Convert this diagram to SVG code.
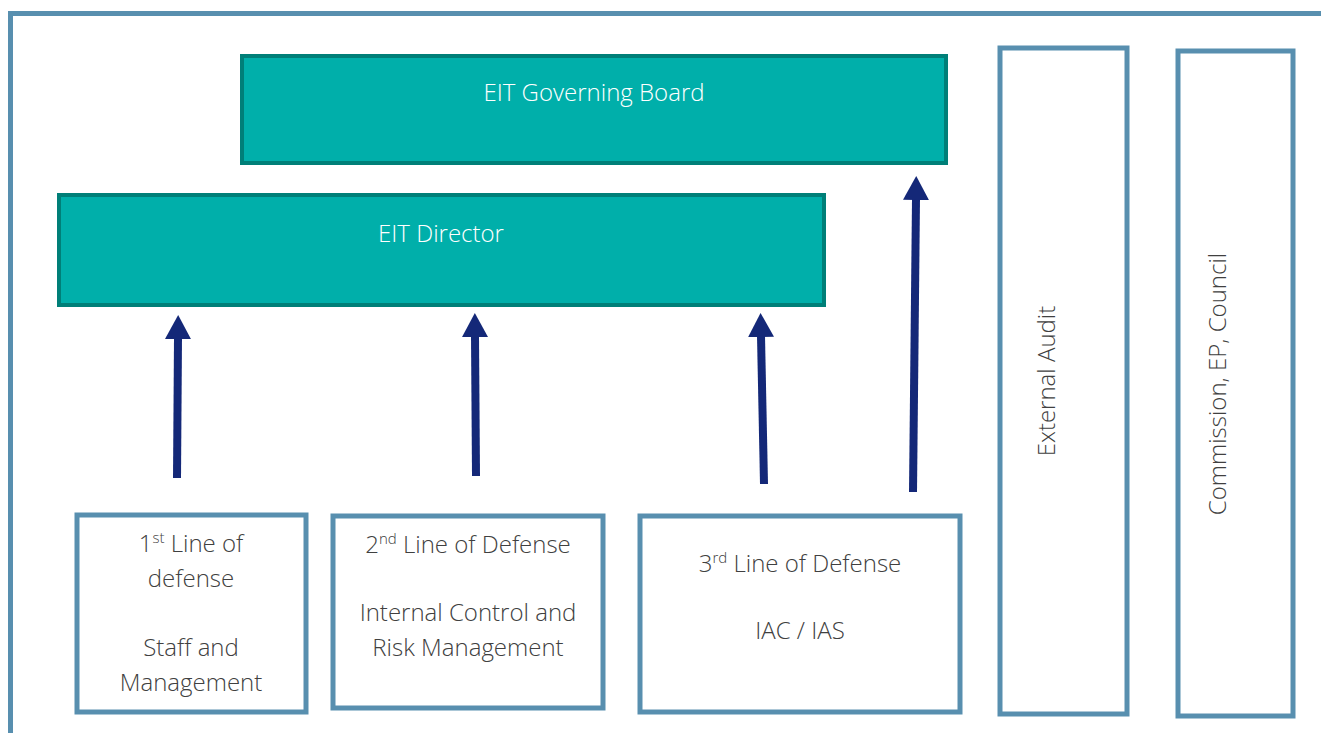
<svg xmlns="http://www.w3.org/2000/svg" width="1321" height="733" viewBox="0 0 1321 733">
<defs>
<style>
.frame{fill:none;stroke:#588FAF;stroke-width:5}
.teal{fill:#00AFAA;stroke:#007F78;stroke-width:4}
.box{fill:#fff;stroke:#588FAF;stroke-width:5}
.tw{font-family:"Open Sans","Liberation Sans",sans-serif;font-weight:300;font-size:24px;fill:#fff;text-anchor:middle}
.tg{font-family:"Open Sans","Liberation Sans",sans-serif;font-weight:300;font-size:24px;fill:#404040;text-anchor:middle}
.arr{stroke:#142878;stroke-width:8;fill:none}
</style>
<marker id="ah" markerUnits="userSpaceOnUse" markerWidth="26" markerHeight="26" refX="1" refY="13" orient="auto" viewBox="0 0 26 26">
<path d="M0,0 L24,13 L0,26 Z" fill="#142878"/>
</marker>
</defs>
<rect width="1321" height="733" fill="#fff"/>
<path class="frame" d="M10.5,740 V13.5 H1330"/>
<g id="governing-board"><rect class="teal" x="242" y="56" width="704" height="107"/><text class="tw" x="594" y="101">EIT Governing Board</text></g>
<g id="director"><rect class="teal" x="59" y="195" width="765" height="110"/><text class="tw" x="441" y="242">EIT Director</text></g>
<g id="line1"><rect class="box" x="77" y="515" width="229" height="197"/>
<text class="tg" x="191" y="552">1<tspan dy="-9" font-size="15">st</tspan><tspan dy="9"> Line of</tspan></text>
<text class="tg" x="191" y="587">defense</text>
<text class="tg" x="191" y="656">Staff and</text>
<text class="tg" x="191" y="691">Management</text></g>
<g id="line2"><rect class="box" x="333" y="516" width="270" height="192"/>
<text class="tg" x="468" y="553">2<tspan dy="-9" font-size="15">nd</tspan><tspan dy="9"> Line of Defense</tspan></text>
<text class="tg" x="468" y="621">Internal Control and</text>
<text class="tg" x="468" y="656">Risk Management</text></g>
<g id="line3"><rect class="box" x="640" y="516" width="320" height="196"/>
<text class="tg" x="800" y="572">3<tspan dy="-9" font-size="15">rd</tspan><tspan dy="9"> Line of Defense</tspan></text>
<text class="tg" x="800" y="639">IAC / IAS</text></g>
<g id="external-audit"><rect class="box" x="1000" y="48" width="127" height="666"/>
<text class="tg" transform="translate(1055,381) rotate(-90)">External Audit</text></g>
<g id="commission"><rect class="box" x="1178" y="51" width="115" height="665"/>
<text class="tg" transform="translate(1226,384) rotate(-90)">Commission, EP, Council</text></g>
<g id="connectors">
<line class="arr" x1="177" y1="478" x2="178" y2="338" marker-end="url(#ah)"/>
<line class="arr" x1="476" y1="476" x2="475" y2="336" marker-end="url(#ah)"/>
<line class="arr" x1="764" y1="484" x2="761" y2="336" marker-end="url(#ah)"/>
<line class="arr" x1="913" y1="492" x2="916" y2="199" marker-end="url(#ah)"/>
</g>
</svg>
